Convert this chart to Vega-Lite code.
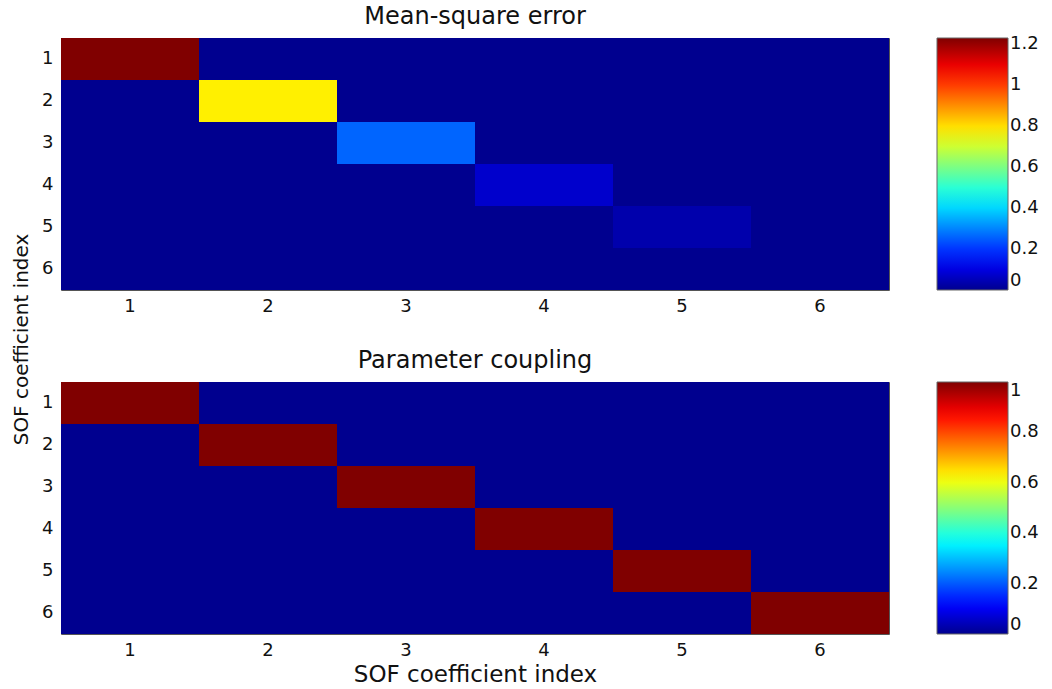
{
  "$schema": "https://vega.github.io/schema/vega-lite/v6.json",
  "background": "white",
  "padding": {"left": 10, "top": 4, "right": 0, "bottom": 0},
  "datasets": {
    "mse": [
      {"row": 1, "col": 1, "v": 1.23}, {"row": 1, "col": 2, "v": 0}, {"row": 1, "col": 3, "v": 0}, {"row": 1, "col": 4, "v": 0}, {"row": 1, "col": 5, "v": 0}, {"row": 1, "col": 6, "v": 0},
      {"row": 2, "col": 1, "v": 0}, {"row": 2, "col": 2, "v": 0.78}, {"row": 2, "col": 3, "v": 0}, {"row": 2, "col": 4, "v": 0}, {"row": 2, "col": 5, "v": 0}, {"row": 2, "col": 6, "v": 0},
      {"row": 3, "col": 1, "v": 0}, {"row": 3, "col": 2, "v": 0}, {"row": 3, "col": 3, "v": 0.26}, {"row": 3, "col": 4, "v": 0}, {"row": 3, "col": 5, "v": 0}, {"row": 3, "col": 6, "v": 0},
      {"row": 4, "col": 1, "v": 0}, {"row": 4, "col": 2, "v": 0}, {"row": 4, "col": 3, "v": 0}, {"row": 4, "col": 4, "v": 0.075}, {"row": 4, "col": 5, "v": 0}, {"row": 4, "col": 6, "v": 0},
      {"row": 5, "col": 1, "v": 0}, {"row": 5, "col": 2, "v": 0}, {"row": 5, "col": 3, "v": 0}, {"row": 5, "col": 4, "v": 0}, {"row": 5, "col": 5, "v": 0.035}, {"row": 5, "col": 6, "v": 0},
      {"row": 6, "col": 1, "v": 0}, {"row": 6, "col": 2, "v": 0}, {"row": 6, "col": 3, "v": 0}, {"row": 6, "col": 4, "v": 0}, {"row": 6, "col": 5, "v": 0}, {"row": 6, "col": 6, "v": 0}
    ],
    "coupling": [
      {"row": 1, "col": 1, "v": 1}, {"row": 1, "col": 2, "v": 0}, {"row": 1, "col": 3, "v": 0}, {"row": 1, "col": 4, "v": 0}, {"row": 1, "col": 5, "v": 0}, {"row": 1, "col": 6, "v": 0},
      {"row": 2, "col": 1, "v": 0}, {"row": 2, "col": 2, "v": 1}, {"row": 2, "col": 3, "v": 0}, {"row": 2, "col": 4, "v": 0}, {"row": 2, "col": 5, "v": 0}, {"row": 2, "col": 6, "v": 0},
      {"row": 3, "col": 1, "v": 0}, {"row": 3, "col": 2, "v": 0}, {"row": 3, "col": 3, "v": 1}, {"row": 3, "col": 4, "v": 0}, {"row": 3, "col": 5, "v": 0}, {"row": 3, "col": 6, "v": 0},
      {"row": 4, "col": 1, "v": 0}, {"row": 4, "col": 2, "v": 0}, {"row": 4, "col": 3, "v": 0}, {"row": 4, "col": 4, "v": 1}, {"row": 4, "col": 5, "v": 0}, {"row": 4, "col": 6, "v": 0},
      {"row": 5, "col": 1, "v": 0}, {"row": 5, "col": 2, "v": 0}, {"row": 5, "col": 3, "v": 0}, {"row": 5, "col": 4, "v": 0}, {"row": 5, "col": 5, "v": 1}, {"row": 5, "col": 6, "v": 0},
      {"row": 6, "col": 1, "v": 0}, {"row": 6, "col": 2, "v": 0}, {"row": 6, "col": 3, "v": 0}, {"row": 6, "col": 4, "v": 0}, {"row": 6, "col": 5, "v": 0}, {"row": 6, "col": 6, "v": 1}
    ]
  },
  "spacing": 92,
  "bounds": "flush",
  "resolve": {"scale": {"color": "independent"}, "legend": {"color": "independent"}},
  "vconcat": [
    {
      "title": {"text": "Mean-square error"},
      "width": 828,
      "height": 252,
      "data": {"name": "mse"},
      "mark": {"type": "rect"},
      "encoding": {
        "x": {"field": "col", "type": "ordinal", "axis": {"title": null}},
        "y": {"field": "row", "type": "ordinal", "axis": {"title": "SOF coefficient index", "titleX": -40, "titleY": 301}},
        "color": {
          "field": "v",
          "type": "quantitative",
          "scale": {
            "domain": [0, 0.1366, 0.449, 0.761, 1.074, 1.23],
            "range": ["#00008F", "#0000FF", "#00FFFF", "#FFFF00", "#FF0000", "#800000"],
            "interpolate": "rgb"
          },
          "legend": {"values": [0, 0.2, 0.4, 0.6, 0.8, 1, 1.2], "format": "~g"}
        }
      }
    },
    {
      "title": {"text": "Parameter coupling"},
      "width": 828,
      "height": 252,
      "data": {"name": "coupling"},
      "mark": {"type": "rect"},
      "encoding": {
        "x": {"field": "col", "type": "ordinal", "axis": {"title": "SOF coefficient index"}},
        "y": {"field": "row", "type": "ordinal", "axis": {"title": null}},
        "color": {
          "field": "v",
          "type": "quantitative",
          "scale": {
            "domain": [0, 0.111, 0.365, 0.619, 0.873, 1],
            "range": ["#00008F", "#0000FF", "#00FFFF", "#FFFF00", "#FF0000", "#800000"],
            "interpolate": "rgb"
          },
          "legend": {"values": [0, 0.2, 0.4, 0.6, 0.8, 1], "format": "~g"}
        }
      }
    }
  ],
  "config": {
    "font": "DejaVu Sans",
    "view": {"stroke": "#555555", "strokeWidth": 1},
    "scale": {"bandPaddingInner": 0, "bandPaddingOuter": 0},
    "title": {"fontSize": 24, "fontWeight": "normal", "color": "#111111", "baseline": "alphabetic", "offset": 9, "anchor": "middle"},
    "axis": {
      "domain": false,
      "ticks": false,
      "grid": false,
      "labelFontSize": 18,
      "labelColor": "#111111",
      "labelAngle": 0,
      "titleColor": "#111111",
      "titleFontWeight": "normal"
    },
    "axisX": {"labelPadding": 7, "titleFontSize": 23, "titlePadding": 4},
    "axisY": {"labelPadding": 8, "titleFontSize": 20, "titleAlign": "center", "titleBaseline": "middle", "titleAngle": -90},
    "legend": {
      "title": null,
      "orient": "right",
      "offset": 48,
      "padding": 0,
      "direction": "vertical",
      "gradientLength": 252,
      "gradientThickness": 71,
      "gradientStrokeColor": "#666666",
      "gradientStrokeWidth": 1,
      "labelFontSize": 18,
      "labelColor": "#111111",
      "labelOffset": 8,
      "labelBaseline": "middle",
      "labelOverlap": false
    }
  }
}
